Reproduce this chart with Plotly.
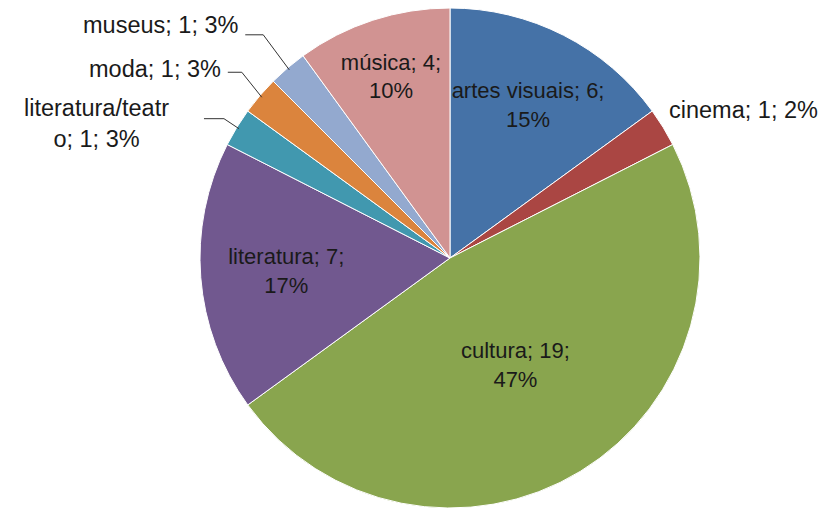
import math
import plotly.graph_objects as go

categories = ["artes visuais", "cinema", "cultura", "literatura", "literatura/teatro", "moda", "museus", "música"]
values = [6, 1, 19, 7, 1, 1, 1, 4]
pct_labels = ["15%", "2%", "47%", "17%", "3%", "3%", "3%", "10%"]
colors = ["#4572A7", "#AA4643", "#89A54E", "#71588F", "#4198AF", "#DB843D", "#93A9CF", "#D19392"]

W, H = 820, 508
CX, CY, R = 450, 258, 250          # pie centre and radius in pixels
FONT = "Liberation Sans, Arial, sans-serif"
FS_IN = 22
FS_OUT = 23.5
TXT = "#1a1a1a"

# label styling for the small slices drawn outside the pie:
# (draw leader?, elbow dx, elbow dy relative to slice edge, horizontal length, text x, text y, xanchor)
callouts = {
    "cinema": (False, 0, 0, 0, 667, 110, "left"),
    "museus": (True, -26, -35, 18, 241, 25, "right"),
    "moda": (True, -20, -25, 14, 223, 69, "right"),
    "literatura/teatro": (True, -15, -10, 20, 96, 123, "center"),
}

texts, positions = [], []
for c, v, p in zip(categories, values, pct_labels):
    if c in callouts:
        texts.append("")
        positions.append("none")
    else:
        texts.append(f"{c}; {v};<br>{p}")
        positions.append("inside")

fig = go.Figure(go.Pie(
    labels=categories,
    values=values,
    text=texts,
    textinfo="text",
    textposition=positions,
    insidetextorientation="horizontal",
    sort=False,
    direction="clockwise",
    rotation=0,
    marker=dict(colors=colors, line=dict(color="#FFFFFF", width=1)),
    textfont=dict(family=FONT, size=FS_IN, color=TXT),
    insidetextfont=dict(family=FONT, size=FS_IN, color=TXT),
    domain=dict(x=[(CX - R) / W, (CX + R) / W], y=[1 - (CY + R) / H, 1 - (CY - R) / H]),
    showlegend=False,
    hoverinfo="label+value+percent",
))

def px(x):
    return x / W

def py(y):
    return 1 - y / H

total = sum(values)
cum = 0
shapes, annotations = [], []
for c, v, p in zip(categories, values, pct_labels):
    mid = (cum + v / 2) / total * 2 * math.pi
    cum += v
    if c not in callouts:
        continue
    leader, edx, edy, hl, tx, ty, xa = callouts[c]
    if leader:
        ex = CX + 0.99 * R * math.sin(mid)
        ey = CY - 0.99 * R * math.cos(mid)
        bx, by = ex + edx, ey + edy
        hx = bx - hl
        shapes.append(dict(
            type="path", xref="paper", yref="paper",
            path=f"M {px(ex)} {py(ey)} L {px(bx)} {py(by)} L {px(hx)} {py(by)}",
            line=dict(color="#333333", width=1),
        ))
    name = c if c != "literatura/teatro" else "literatura/teatr<br>o"
    annotations.append(dict(
        x=px(tx), y=py(ty), xref="paper", yref="paper",
        text=f"{name}; {v}; {p}", showarrow=False,
        xanchor=xa, yanchor="middle", align="center",
        font=dict(family=FONT, size=FS_OUT, color=TXT),
    ))

fig.update_layout(
    width=W, height=H,
    margin=dict(l=0, r=0, t=0, b=0),
    paper_bgcolor="white",
    plot_bgcolor="white",
    shapes=shapes,
    annotations=annotations,
    uniformtext=dict(minsize=FS_IN, mode="show"),
)
fig.write_html(
    "out.html",
    config={"displayModeBar": False},
    post_script="document.body.style.margin='0';document.body.style.overflow='hidden';",
)
